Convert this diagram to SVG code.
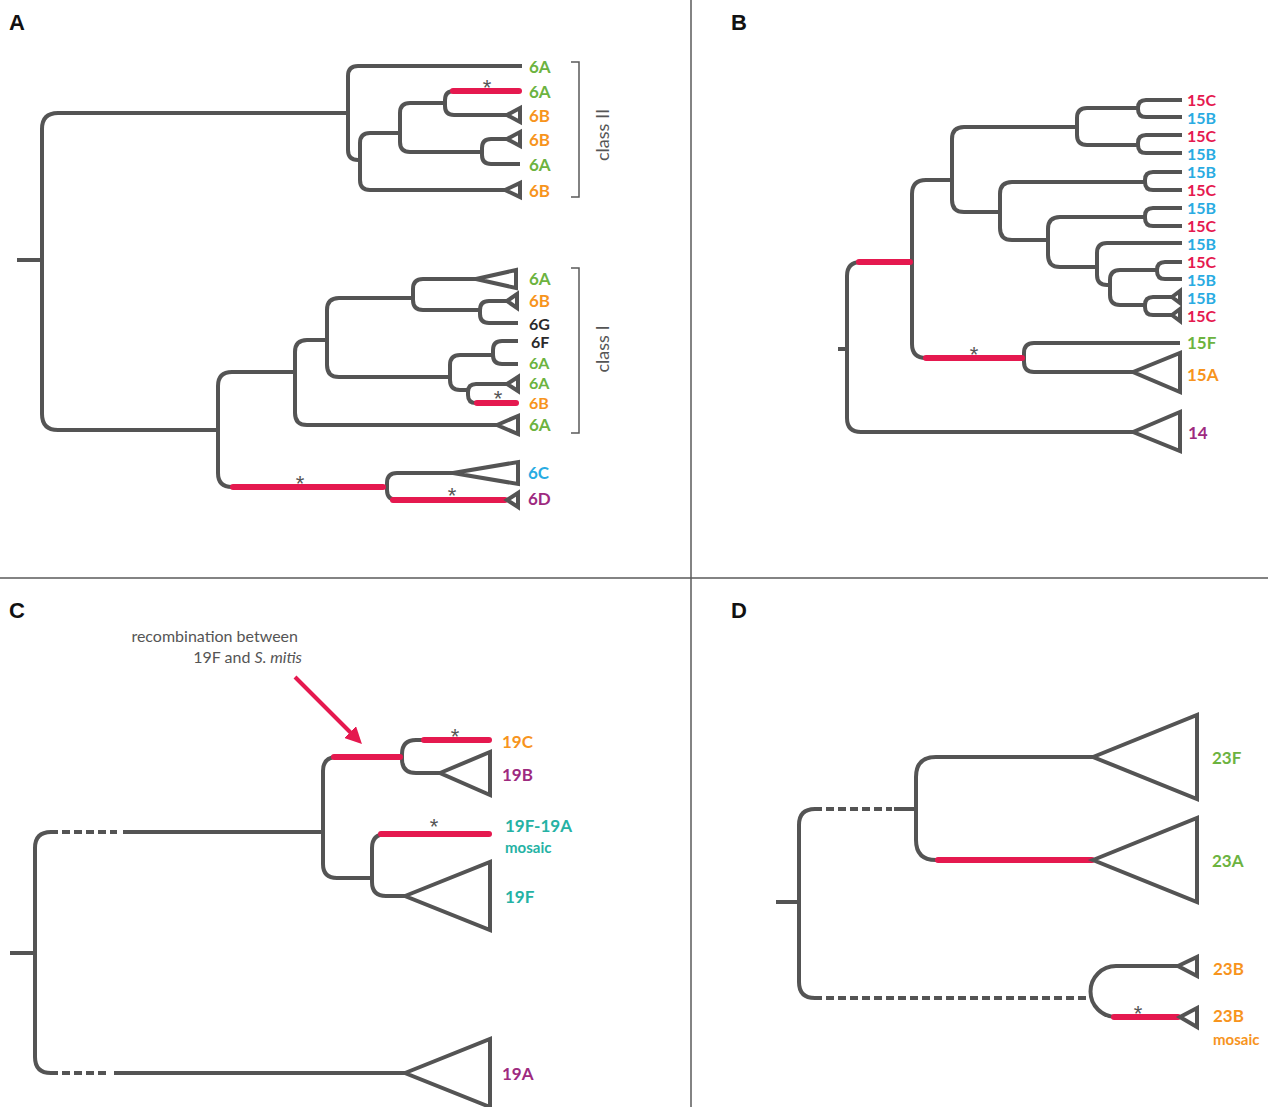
<svg xmlns="http://www.w3.org/2000/svg" width="1278" height="1107" viewBox="0 0 1278 1107">
  <style>
    .br { fill: none; stroke: #545454; stroke-width: 4; stroke-linecap: butt; stroke-linejoin: round; }
    .dash { fill: none; stroke: #545454; stroke-width: 4; stroke-dasharray: 8 4; }
    .rec { fill: none; stroke: #e5194f; stroke-width: 6; stroke-linecap: round; }
    .tri { fill: #fff; stroke: #545454; stroke-width: 4; stroke-linejoin: miter; }
    .div { stroke: #5a5a5a; stroke-width: 1.5; }
    .brk { fill: none; stroke: #5a5a5a; stroke-width: 1.5; }
    .lab { font-family: Lato, "Open Sans", "Liberation Sans", sans-serif; font-size: 17px; font-weight: 700; dominant-baseline: central; }
    .sm { font-size: 16px; }
    .sub { font-size: 15px; }
    .cls { font-family: Lato, "Open Sans", "Liberation Sans", sans-serif; font-size: 18px; fill: #555; }
    .ast { font-family: "Liberation Sans", sans-serif; font-size: 22px; fill: #555; text-anchor: middle; }
    .pan { font-family: "Liberation Sans", Arial, sans-serif; font-size: 22px; font-weight: 700; fill: #111; }
    .note { font-family: Lato, "Open Sans", "Liberation Sans", sans-serif; font-size: 16px; fill: #555; text-anchor: end; }
    .g { fill: #6cb33f; } .o { fill: #f7941d; } .b { fill: #29abe2; } .p { fill: #9e2a7f; }
    .r { fill: #e5194f; } .k { fill: #2b2b2b; } .t { fill: #25b2a4; }
  </style>
  <defs>
    <marker id="arrowhead" viewBox="0 0 10 10" refX="5" refY="5" markerWidth="4.2" markerHeight="4.2" orient="auto" markerUnits="strokeWidth">
      <path d="M0,0 L10,5 L0,10 Z" fill="#e5194f"/>
    </marker>
  </defs>

  <rect width="1278" height="1107" fill="#fff"/>

  <!-- panel dividers -->
  <g id="dividers">
    <line class="div" x1="691" y1="0" x2="691" y2="1107"/>
    <line class="div" x1="0" y1="578" x2="1268" y2="578"/>
  </g>

  <!-- panel letters -->
  <g id="panel-letters">
    <text class="pan" x="9" y="30">A</text>
    <text class="pan" x="731" y="30">B</text>
    <text class="pan" x="9" y="618">C</text>
    <text class="pan" x="731" y="618">D</text>
  </g>

  <!-- ===== Panel A : serogroup 6 ===== -->
  <g id="connectors-A">
    <path class="br" d="M17,260 H42"/>
    <path class="br" d="M348,113 H58 Q42,113 42,129 V414 Q42,430 58,430 H218"/>
    <!-- class II -->
    <path class="br" d="M522,66 H358 Q348,66 348,76 V150 Q348,160 358,160 H360"/>
    <path class="br" d="M400,133 H370 Q360,133 360,143 V180 Q360,190 370,190 H505"/>
    <path class="br" d="M445,103 H410 Q400,103 400,113 V142 Q400,152 410,152 H482"/>
    <path class="br" d="M520,91 H454 Q445,91 445,100 V106 Q445,115 454,115 H507"/>
    <path class="br" d="M507,139 H491 Q482,139 482,148 V155 Q482,164 491,164 H520"/>
    <!-- class I -->
    <path class="br" d="M295,372 H232 Q218,372 218,386 V473 Q218,487 232,487 H387"/>
    <path class="br" d="M327,340 H307 Q295,340 295,352 V413 Q295,425 307,425 H497"/>
    <path class="br" d="M413,298 H339 Q327,298 327,310 V365 Q327,377 339,377 H450"/>
    <path class="br" d="M476,279 H423 Q413,279 413,289 V300 Q413,310 423,310 H480"/>
    <path class="br" d="M507,301 H489 Q480,301 480,310 V314 Q480,323 489,323 H518"/>
    <path class="br" d="M493,355 H460 Q450,355 450,365 V380 Q450,390 460,390 H468"/>
    <path class="br" d="M518,341 H502 Q493,341 493,350 V355 Q493,364 502,364 H518"/>
    <path class="br" d="M507,384 H476 Q468,384 468,392 V395 Q468,403 476,403 H516"/>
    <path class="br" d="M453,473 H397 Q387,473 387,483 V490 Q387,500 397,500 H507"/>
    <!-- recombinant branches -->
    <path class="rec" d="M453,91 H519"/>
    <path class="rec" d="M477,403 H516"/>
    <path class="rec" d="M233,487 H383"/>
    <path class="rec" d="M393,500 H505"/>
    <text class="ast" x="487" y="95">*</text>
    <text class="ast" x="498" y="406">*</text>
    <text class="ast" x="300" y="491">*</text>
    <text class="ast" x="452" y="503">*</text>
  </g>

  <g id="A-6A-1"><text class="lab g" x="529" y="66">6A</text></g>
  <g id="A-6A-2"><text class="lab g" x="529" y="91">6A</text></g>
  <g id="A-6B-1"><polygon class="tri" points="507,115 520,108 520,122"/><text class="lab o" x="529" y="115">6B</text></g>
  <g id="A-6B-2"><polygon class="tri" points="507,139 520,132 520,146"/><text class="lab o" x="529" y="139">6B</text></g>
  <g id="A-6A-3"><text class="lab g" x="529" y="164">6A</text></g>
  <g id="A-6B-3"><polygon class="tri" points="505,190 520,183 520,197"/><text class="lab o" x="529" y="190">6B</text></g>
  <g id="A-classII">
    <path class="brk" d="M571,62 H579 V197 H571"/>
    <text class="cls" transform="translate(609,135) rotate(-90)" text-anchor="middle">class II</text>
  </g>

  <g id="A-6A-4"><polygon class="tri" points="476,279 516,270 516,288"/><text class="lab g" x="529" y="278">6A</text></g>
  <g id="A-6B-4"><polygon class="tri" points="507,301 517,294 517,308"/><text class="lab o" x="529" y="300">6B</text></g>
  <g id="A-6G"><text class="lab k sm" x="529" y="323">6G</text></g>
  <g id="A-6F"><text class="lab k sm" x="531" y="341">6F</text></g>
  <g id="A-6A-5"><text class="lab g sm" x="529" y="362">6A</text></g>
  <g id="A-6A-6"><polygon class="tri" points="507,384 518,377 518,391"/><text class="lab g sm" x="529" y="382">6A</text></g>
  <g id="A-6B-5"><text class="lab o sm" x="529" y="402">6B</text></g>
  <g id="A-6A-7"><polygon class="tri" points="497,425 518,416 518,434"/><text class="lab g" x="529" y="424">6A</text></g>
  <g id="A-classI">
    <path class="brk" d="M571,268 H579 V433 H571"/>
    <text class="cls" transform="translate(609,349) rotate(-90)" text-anchor="middle">class I</text>
  </g>
  <g id="A-6C"><polygon class="tri" points="453,473 518,462 518,484"/><text class="lab b" x="528" y="472">6C</text></g>
  <g id="A-6D"><polygon class="tri" points="507,500 518,493 518,507"/><text class="lab p" x="528" y="498">6D</text></g>

  <!-- ===== Panel B : serogroup 15 ===== -->
  <g id="connectors-B">
    <path class="br" d="M838,349 H847"/>
    <path class="br" d="M912,262 H861 Q847,262 847,276 V418 Q847,432 861,432 H1133"/>
    <path class="br" d="M952,180 H926 Q912,180 912,194 V344 Q912,358 926,358 H1024"/>
    <path class="br" d="M1077,127 H964 Q952,127 952,139 V200 Q952,212 964,212 H1000"/>
    <path class="br" d="M1138,108 H1087 Q1077,108 1077,118 V135 Q1077,145 1087,145 H1138"/>
    <path class="br" d="M1182,100 H1146 Q1138,100 1138,108 V109 Q1138,117 1146,117 H1182"/>
    <path class="br" d="M1182,135 H1146 Q1138,135 1138,143 V145 Q1138,153 1146,153 H1182"/>
    <path class="br" d="M1145,182 H1012 Q1000,182 1000,194 V228 Q1000,240 1012,240 H1048"/>
    <path class="br" d="M1182,172 H1153 Q1145,172 1145,180 V182 Q1145,190 1153,190 H1182"/>
    <path class="br" d="M1145,217 H1060 Q1048,217 1048,229 V255 Q1048,267 1060,267 H1097"/>
    <path class="br" d="M1182,208 H1153 Q1145,208 1145,216 V218 Q1145,226 1153,226 H1182"/>
    <path class="br" d="M1182,243 H1107 Q1097,243 1097,253 V275 Q1097,285 1107,285 H1110"/>
    <path class="br" d="M1157,270 H1120 Q1110,270 1110,280 V295 Q1110,305 1120,305 H1145"/>
    <path class="br" d="M1182,262 H1165 Q1157,262 1157,270 V271 Q1157,279 1165,279 H1182"/>
    <path class="br" d="M1172,297 H1153 Q1145,297 1145,305 V307 Q1145,315 1153,315 H1172"/>
    <path class="br" d="M1180,343 H1034 Q1024,343 1024,353 V362 Q1024,372 1034,372 H1133"/>
    <path class="rec" d="M859,262 H910"/>
    <path class="rec" d="M926,358 H1022"/>
    <text class="ast" x="974" y="362">*</text>
  </g>

  <g id="B-15C-1"><text class="lab r sm" x="1187" y="99">15C</text></g>
  <g id="B-15B-1"><text class="lab b sm" x="1187" y="117">15B</text></g>
  <g id="B-15C-2"><text class="lab r sm" x="1187" y="135">15C</text></g>
  <g id="B-15B-2"><text class="lab b sm" x="1187" y="153">15B</text></g>
  <g id="B-15B-3"><text class="lab b sm" x="1187" y="171">15B</text></g>
  <g id="B-15C-3"><text class="lab r sm" x="1187" y="189">15C</text></g>
  <g id="B-15B-4"><text class="lab b sm" x="1187" y="207">15B</text></g>
  <g id="B-15C-4"><text class="lab r sm" x="1187" y="225">15C</text></g>
  <g id="B-15B-5"><text class="lab b sm" x="1187" y="243">15B</text></g>
  <g id="B-15C-5"><text class="lab r sm" x="1187" y="261">15C</text></g>
  <g id="B-15B-6"><text class="lab b sm" x="1187" y="279">15B</text></g>
  <g id="B-15B-7"><polygon class="tri" points="1172,297 1180,291 1180,303"/><text class="lab b sm" x="1187" y="297">15B</text></g>
  <g id="B-15C-6"><polygon class="tri" points="1172,315 1180,309 1180,321"/><text class="lab r sm" x="1187" y="315">15C</text></g>
  <g id="B-15F"><text class="lab g" x="1187" y="342">15F</text></g>
  <g id="B-15A"><polygon class="tri" points="1133,372 1180,353 1180,392"/><text class="lab o" x="1187" y="374">15A</text></g>
  <g id="B-14"><polygon class="tri" points="1133,432 1180,412 1180,451"/><text class="lab p" x="1188" y="432">14</text></g>

  <!-- ===== Panel C : serogroup 19 ===== -->
  <g id="annotation-C">
    <text class="note" x="298" y="642">recombination between</text>
    <text class="note" x="302" y="663">19F and <tspan font-style="italic">S. mitis</tspan></text>
    <line x1="295" y1="677" x2="356" y2="738" stroke="#e5194f" stroke-width="4" marker-end="url(#arrowhead)"/>
  </g>
  <g id="connectors-C">
    <path class="br" d="M10,953 H35"/>
    <path class="br" d="M51,832 Q35,832 35,848 V1057 Q35,1073 51,1073"/>
    <path class="dash" d="M50,832 H117"/>
    <path class="br" d="M123,832 H323"/>
    <path class="dash" d="M50,1073 H110"/>
    <path class="br" d="M114,1073 H405"/>
    <path class="br" d="M402,757 H337 Q323,757 323,771 V864 Q323,878 337,878 H372"/>
    <path class="br" d="M490,740 H416 Q402,740 402,754 V759 Q402,773 416,773 H440"/>
    <path class="br" d="M490,834 H386 Q372,834 372,848 V882 Q372,896 386,896 H405"/>
    <path class="rec" d="M334,757 H400"/>
    <path class="rec" d="M424,740 H489"/>
    <path class="rec" d="M381,834 H489"/>
    <text class="ast" x="455" y="744">*</text>
    <text class="ast" x="434" y="834">*</text>
  </g>
  <g id="C-19C"><text class="lab o" x="502" y="741">19C</text></g>
  <g id="C-19B"><polygon class="tri" points="440,773 490,752 490,795"/><text class="lab p" x="502" y="774">19B</text></g>
  <g id="C-19F-19A"><text class="lab t" x="505" y="825">19F-19A</text><text class="lab t sub" x="505" y="847">mosaic</text></g>
  <g id="C-19F"><polygon class="tri" points="405,896 490,862 490,930"/><text class="lab t" x="505" y="896">19F</text></g>
  <g id="C-19A"><polygon class="tri" points="405,1073 490,1039 490,1107"/><text class="lab p" x="502" y="1073">19A</text></g>

  <!-- ===== Panel D : serogroup 23 ===== -->
  <g id="connectors-D">
    <path class="br" d="M776,902 H799"/>
    <path class="br" d="M815,809 Q799,809 799,825 V982 Q799,998 815,998"/>
    <path class="dash" d="M814,809 H892"/>
    <path class="br" d="M894,809 H916"/>
    <path class="dash" d="M814,998 H1090"/>
    <path class="br" d="M1093,757 H936 Q916,757 916,777 V840 Q916,860 936,860 H1093"/>
    <path class="br" d="M1178,966 H1116 A25.5,25.5 0 0 0 1116,1017 H1180"/>
    <path class="rec" d="M938,860 H1092"/>
    <path class="rec" d="M1114,1017 H1178"/>
    <text class="ast" x="1138" y="1021">*</text>
  </g>
  <g id="D-23F"><polygon class="tri" points="1093,757 1197,715 1197,799"/><text class="lab g" x="1212" y="757">23F</text></g>
  <g id="D-23A"><polygon class="tri" points="1093,860 1197,818 1197,902"/><text class="lab g" x="1212" y="860">23A</text></g>
  <g id="D-23B"><polygon class="tri" points="1178,966 1197,957 1197,976"/><text class="lab o" x="1213" y="968">23B</text></g>
  <g id="D-23B-mosaic"><polygon class="tri" points="1180,1017 1197,1008 1197,1027"/><text class="lab o" x="1213" y="1015">23B</text><text class="lab o sub" x="1213" y="1039">mosaic</text></g>
</svg>
